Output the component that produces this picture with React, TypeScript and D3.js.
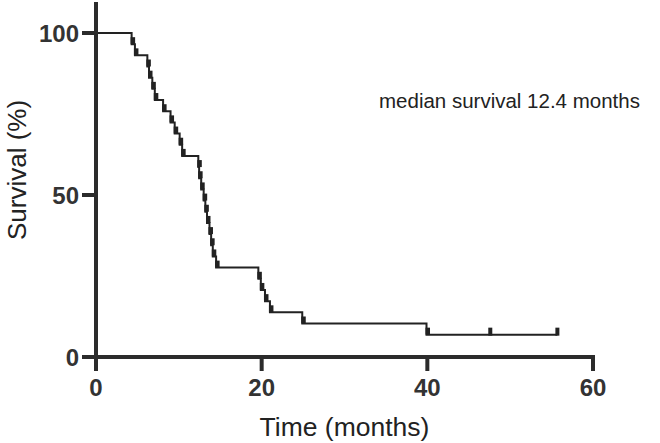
import React from "react";
import * as d3 from "d3";

const eventTimes = [
  4.3, 4.7,
  6.2, 6.4, 6.8, 7.1,
  8.1, 9.0, 9.5, 10.1, 10.4,
  12.35, 12.45, 12.7, 13.0, 13.2, 13.4, 13.7, 13.9, 14.1, 14.5,
  19.6, 19.9, 20.4, 21.0,
  24.9,
  39.9,
];
const censorTimes = [47.6, 55.7];
const xTicks = [0, 20, 40, 60];
const yTicks = [0, 50, 100];
const annotation = "median survival 12.4 months";
const xTitle = "Time (months)";
const yTitle = "Survival (%)";

type Rec = { t: number; ev: boolean };

export default function App() {
  const W = 660, H = 443;
  const x = d3.scaleLinear().domain([0, 60]).range([96, 593]);
  const y = d3.scaleLinear().domain([0, 100]).range([357, 33]);

  const recs: Rec[] = [
    ...eventTimes.map((t) => ({ t, ev: true })),
    ...censorTimes.map((t) => ({ t, ev: false })),
  ].sort((a, b) => a.t - b.t);

  let n = recs.length;
  let s = 100;
  const pts: [number, number][] = [[0, 100]];
  const drops: { t: number; from: number; to: number }[] = [];
  const cens: { t: number; s: number }[] = [];
  for (const r of recs) {
    if (r.ev) {
      const ns = (s * (n - 1)) / n;
      drops.push({ t: r.t, from: s, to: ns });
      s = ns;
      pts.push([r.t, s]);
    } else {
      cens.push({ t: r.t, s });
      pts.push([r.t, s]);
    }
    n -= 1;
  }

  const line = d3
    .line<[number, number]>()
    .x((d) => x(d[0]))
    .y((d) => y(d[1]))
    .curve(d3.curveStepAfter);

  const font = "'Liberation Sans', Arial, Helvetica, sans-serif";
  const axisColor = "#2b2b2b";

  return (
    <svg
      width={W}
      height={H}
      style={{ position: "absolute", left: 0, top: 0, background: "#fff" }}
      fontFamily={font}
    >
      <rect x={0} y={0} width={W} height={H} fill="#fff" />
      {/* KM curve */}
      <path d={line(pts) || ""} fill="none" stroke="#222" strokeWidth={2} />
      {drops.map((d, i) => (
        <rect
          key={"d" + i}
          x={x(d.t) - 1}
          y={y(d.to) - 7}
          width={4.5}
          height={7}
          fill="#222"
        />
      ))}
      {cens.map((c, i) => (
        <rect
          key={"c" + i}
          x={x(c.t) - 2}
          y={y(c.s) - 7}
          width={4}
          height={8}
          fill="#222"
        />
      ))}

      {/* axes */}
      <line x1={x(0)} x2={x(0)} y1={2} y2={365} stroke={axisColor} strokeWidth={4} />
      <line x1={x(0) - 2} x2={x(60) + 2} y1={y(0)} y2={y(0)} stroke={axisColor} strokeWidth={4} />
      {yTicks.map((v) => (
        <g key={"y" + v}>
          <line x1={x(0) - 14} x2={x(0)} y1={y(v)} y2={y(v)} stroke={axisColor} strokeWidth={4} />
          <text
            x={79}
            y={y(v)}
            dy="0.36em"
            textAnchor="end"
            fontSize={24}
            fontWeight="bold"
            fill="#333"
          >
            {v}
          </text>
        </g>
      ))}
      {xTicks.map((v) => (
        <g key={"x" + v}>
          <line x1={x(v)} x2={x(v)} y1={y(0)} y2={y(0) + 14} stroke={axisColor} strokeWidth={4} />
          <text
            x={x(v)}
            y={396}
            textAnchor="middle"
            fontSize={24}
            fontWeight="bold"
            fill="#333"
          >
            {v}
          </text>
        </g>
      ))}
      <text x={(x(0) + x(60)) / 2} y={436} textAnchor="middle" fontSize={26.5} fill="#222">
        {xTitle}
      </text>
      <text
        transform={`translate(26, 170) rotate(-90)`}
        textAnchor="middle"
        fontSize={26}
        fill="#222"
      >
        {yTitle}
      </text>
      <text x={379} y={108} fontSize={20.5} fill="#222">
        {annotation}
      </text>
    </svg>
  );
}
